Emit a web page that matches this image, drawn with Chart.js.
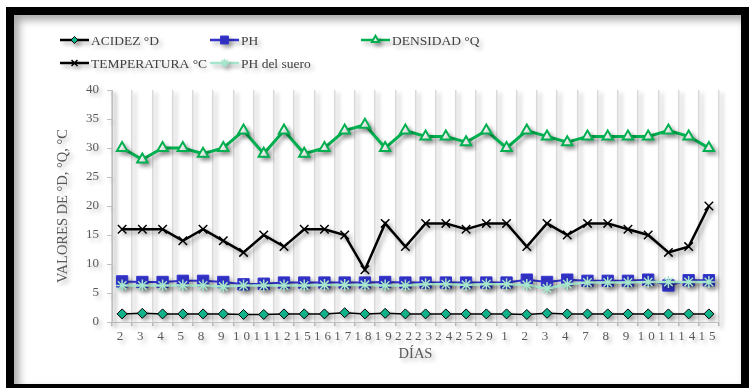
<!DOCTYPE html>
<html lang="es">
<head>
<meta charset="utf-8">
<title>Control diario</title>
<script src="https://cdn.jsdelivr.net/npm/chart.js@4.4.1/dist/chart.umd.min.js"></script>
<style>
  html, body { margin: 0; padding: 0; background: #fff; overflow: hidden; }
  #wrap { position: relative; width: 749px; height: 388px; }
  #frame {
    position: absolute; left: 6px; top: 7px; width: 743px; height: 385px;
    box-sizing: border-box; border: 8px solid #000;
    box-shadow: inset 5px 5px 8px rgba(0,0,0,0.35);
  }
  #chart { position: absolute; left: 0; top: 0; }
</style>
</head>
<body>
<div id="wrap">
  <div id="frame"></div>
  <canvas id="chart" width="749" height="388"></canvas>
</div>
<script>
// dias de muestreo
const dias = ['2', '3', '4', '5', '8', '9', '10', '11', '12', '15', '16', '17', '18', '19', '22',
  '23', '24', '25', '29', '1', '2', '3', '4', '7', '8', '9', '10', '11', '14', '15'];

const acidez = [1.4, 1.5, 1.4, 1.4, 1.4, 1.4, 1.3, 1.3, 1.4, 1.4, 1.4, 1.6, 1.4, 1.5, 1.4,
  1.4, 1.4, 1.4, 1.4, 1.4, 1.3, 1.5, 1.4, 1.4, 1.4, 1.4, 1.4, 1.4, 1.4, 1.4];
const ph = [7.0, 6.9, 6.9, 7.1, 7.1, 6.9, 6.5, 6.6, 6.8, 6.8, 6.8, 6.8, 6.8, 6.9, 6.8,
  6.8, 6.8, 6.8, 6.8, 6.8, 7.3, 6.9, 7.3, 7.1, 7.1, 7.1, 7.3, 6.3, 7.2, 7.2];
const densidad = [30, 28, 30, 30, 29, 30, 33, 29, 33, 29, 30, 33, 34, 30, 33,
  32, 32, 31, 33, 30, 33, 32, 31, 32, 32, 32, 32, 33, 32, 30];
const temperatura = [16, 16, 16, 14, 16, 14, 12, 15, 13, 16, 16, 15, 9, 17, 13,
  17, 17, 16, 17, 17, 13, 17, 15, 17, 17, 16, 15, 12, 13, 20];
const phSuero = [6.3, 6.3, 6.3, 6.3, 6.3, 6.1, 6.3, 6.3, 6.3, 6.3, 6.4, 6.4, 6.4, 6.3, 6.3,
  6.5, 6.5, 6.4, 6.5, 6.5, 6.4, 5.8, 6.5, 6.8, 6.8, 6.8, 6.9, 6.9, 6.9, 6.9];

const FONT = "'Liberation Serif', 'Times New Roman', serif";
const GRIS = '#595959';

// sombra suave para todo el dibujo
const sombra = {
  id: 'sombra',
  beforeDraw(chart) {
    const ctx = chart.ctx;
    ctx.shadowColor = 'rgba(0,0,0,0.3)';
    ctx.shadowBlur = 4;
    ctx.shadowOffsetX = 3;
    ctx.shadowOffsetY = 3;
  },
};

// etiquetas del eje x con espaciado entre letras
const espaciado = {
  id: 'espaciado',
  afterLayout(chart) {
    const xs = chart.scales.x;
    if (!xs || xs._espaciado) return;
    const orig = xs.drawLabels.bind(xs);
    xs.drawLabels = function (area) {
      const ctx = chart.ctx;
      ctx.save();
      ctx.letterSpacing = '4px';
      orig(area);
      ctx.restore();
    };
    xs._espaciado = true;
  },
};

// leyenda en columnas, arriba del grafico
const slots = [
  { x: 60, y: 40 }, { x: 210, y: 40 }, { x: 361, y: 40 },
  { x: 60, y: 63 }, { x: 210, y: 63 },
];
const leyenda = {
  id: 'leyenda',
  afterDraw(chart) {
    const ctx = chart.ctx;
    chart.data.datasets.forEach((ds, i) => {
      const s = slots[i];
      if (!s) return;
      ctx.save();
      ctx.strokeStyle = ds.borderColor;
      ctx.lineWidth = 2.5;
      ctx.beginPath();
      ctx.moveTo(s.x, s.y);
      ctx.lineTo(s.x + 29, s.y);
      ctx.stroke();
      ctx.fillStyle = ds.pointBackgroundColor;
      ctx.strokeStyle = ds.pointBorderColor;
      ctx.lineWidth = ds.pointBorderWidth;
      if (Chart.helpers && Chart.helpers.drawPoint) {
        Chart.helpers.drawPoint(ctx, {
          pointStyle: ds.pointStyle,
          radius: ds.pointRadius * 0.7,
          borderWidth: ds.pointBorderWidth,
          rotation: 0,
        }, s.x + 14.5, s.y);
      }
      ctx.fillStyle = '#404040';
      ctx.font = `13.5px ${FONT}`;
      ctx.textAlign = 'left';
      ctx.textBaseline = 'middle';
      ctx.fillText(ds.label, s.x + 31, s.y + 1);
      ctx.restore();
    });
  },
};

new Chart(document.getElementById('chart'), {
  type: 'line',
  data: {
    labels: dias,
    datasets: [
      {
        label: 'ACIDEZ °D', data: acidez, order: 5,
        borderColor: '#000000', borderWidth: 1.5,
        pointStyle: 'rectRot', pointRadius: 5,
        pointBackgroundColor: '#10b98f', pointBorderColor: '#000000', pointBorderWidth: 1,
      },
      {
        label: 'PH', data: ph, order: 4,
        borderColor: '#3333cc', borderWidth: 2,
        pointStyle: 'rect', pointRadius: 8,
        pointBackgroundColor: '#3333cc', pointBorderColor: '#3333cc', pointBorderWidth: 1,
      },
      {
        label: 'DENSIDAD °Q', data: densidad, order: 3,
        borderColor: '#00b050', borderWidth: 3,
        pointStyle: 'triangle', pointRadius: 6,
        pointBackgroundColor: '#ffffff', pointBorderColor: '#00b050', pointBorderWidth: 2,
      },
      {
        label: 'TEMPERATURA °C', data: temperatura, order: 2,
        borderColor: '#000000', borderWidth: 2.5,
        pointStyle: 'crossRot', pointRadius: 6,
        pointBackgroundColor: '#000000', pointBorderColor: '#000000', pointBorderWidth: 1.5,
      },
      {
        label: 'PH del suero', data: phSuero, order: 1,
        borderColor: '#a6e6cc', borderWidth: 2.5,
        pointStyle: 'star', pointRadius: 6,
        pointBackgroundColor: '#a6e6cc', pointBorderColor: '#a6e6cc', pointBorderWidth: 1.5,
      },
    ],
  },
  options: {
    responsive: false,
    animation: false,
    layout: { padding: { top: 90, right: 30, bottom: 21, left: 50 } },
    plugins: {
      legend: { display: false },
      tooltip: { enabled: false },
    },
    elements: { line: { tension: 0 } },
    scales: {
      x: {
        offset: true,
        afterFit(scale) { scale.height = 45; },
        grid: { offset: true, color: '#d9d9d9', lineWidth: 1.5, tickLength: 4, tickColor: '#bfbfbf' },
        border: { color: '#bfbfbf', width: 1 },
        ticks: {
          color: GRIS, font: { family: FONT, size: 13 },
          autoSkip: false, maxRotation: 0, minRotation: 0, padding: 3,
        },
        title: { display: true, text: 'DÍAS', color: GRIS, font: { family: FONT, size: 14.5 } },
      },
      y: {
        min: 0, max: 40,
        afterFit(scale) { scale.width = 62; },
        grid: { drawOnChartArea: false, tickLength: 5, color: '#bfbfbf' },
        border: { color: '#bfbfbf', width: 1 },
        ticks: { stepSize: 5, color: GRIS, font: { family: FONT, size: 13 }, padding: 8 },
        title: { display: true, text: 'VALORES DE °D, °Q, °C', color: GRIS, font: { family: FONT, size: 14.5 } },
      },
    },
  },
  plugins: [sombra, espaciado, leyenda],
});
</script>
</body>
</html>
